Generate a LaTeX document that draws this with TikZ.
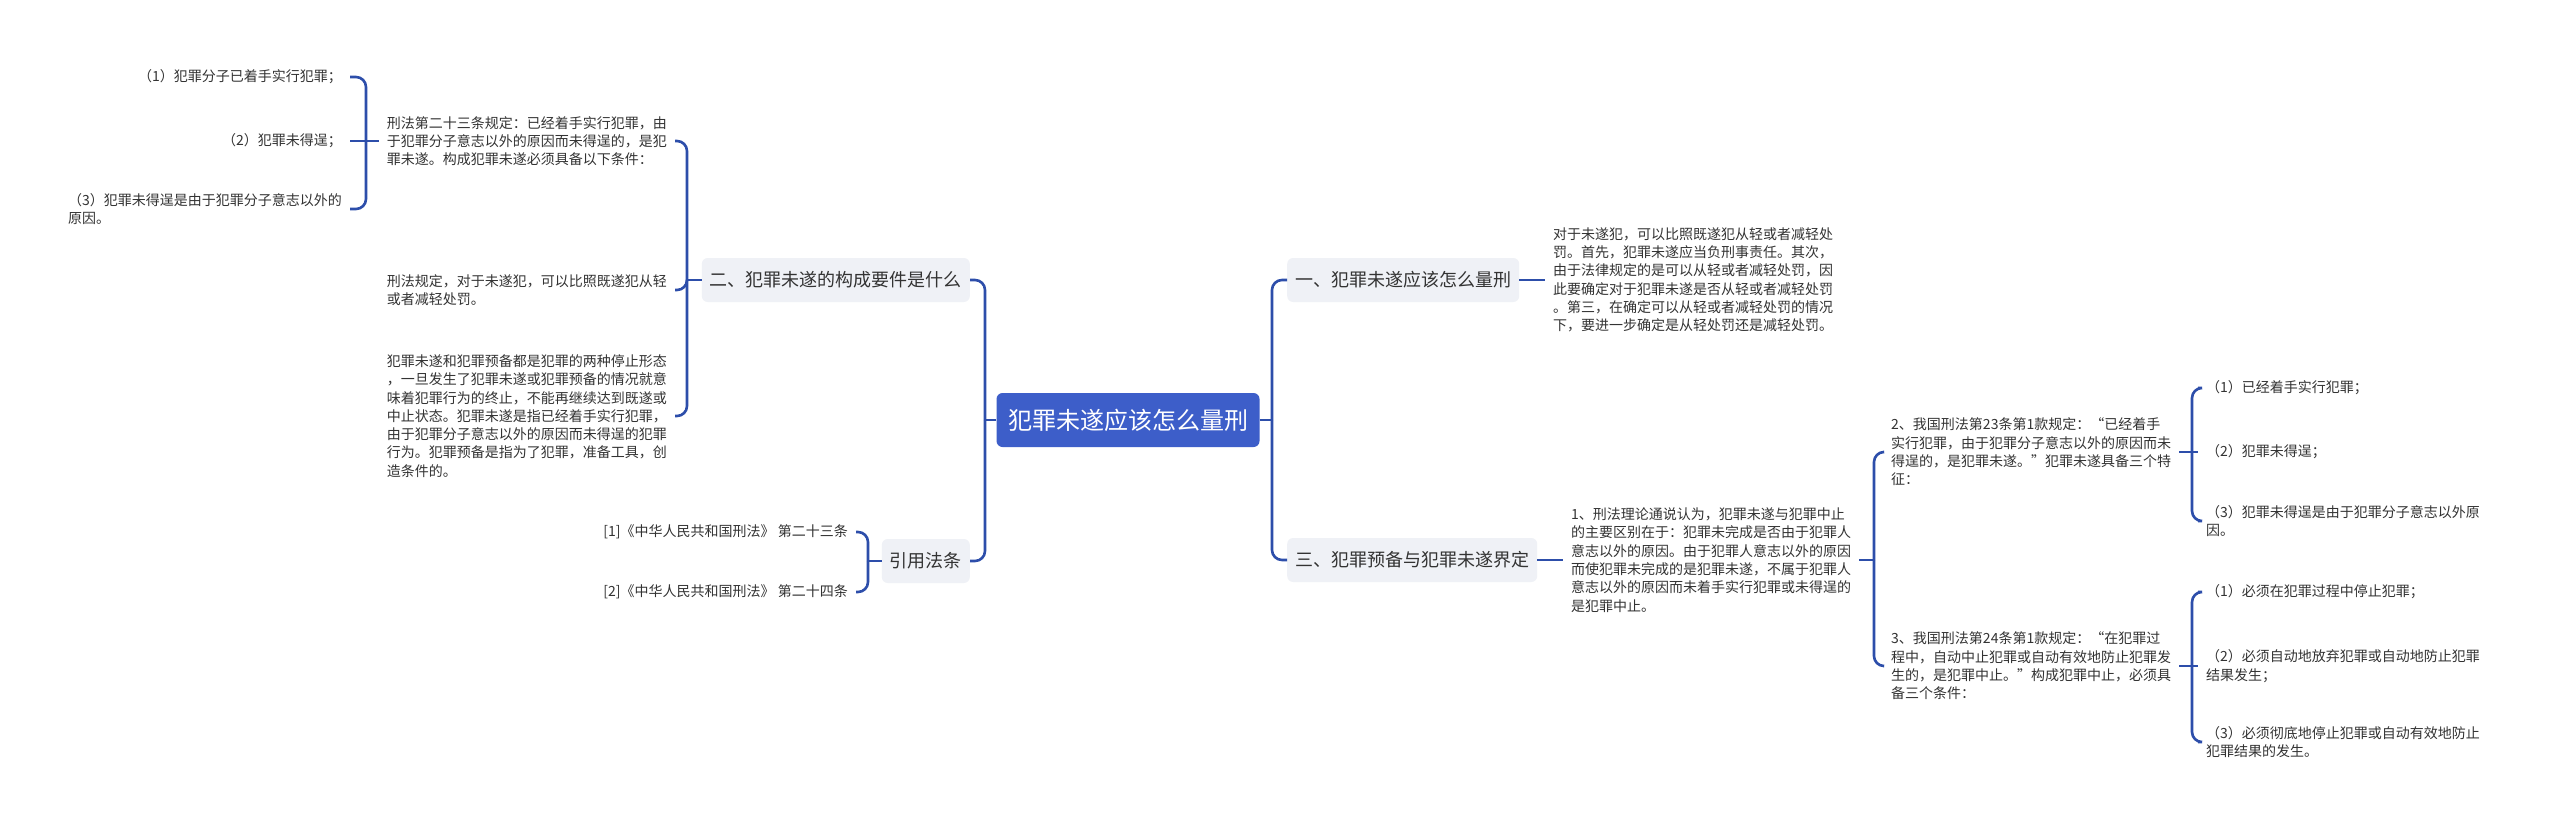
\documentclass[tikz,border=0pt]{standalone}
\usepackage{fontspec}
\setmainfont{Noto Sans CJK SC}
\definecolor{linec}{RGB}{45,78,170}
\definecolor{rootc}{RGB}{61,94,201}
\definecolor{lonefill}{RGB}{239,241,246}
\definecolor{txt}{RGB}{51,51,51}
\begin{document}
\begin{tikzpicture}[x=1pt,y=-1pt,
  conn/.style={draw=linec, line width=2.6pt, rounded corners=10pt},
  rootbox/.style={fill=rootc, text=white, rounded corners=6pt, minimum width=263pt, minimum height=54pt, inner sep=0pt, font=\fontsize{24}{28}\selectfont},
  lonebox/.style={fill=lonefill, text=txt, rounded corners=6pt, minimum height=44pt, inner xsep=8pt, inner ysep=0pt, font=\fontsize{18}{22}\selectfont},
  leaf/.style={text=txt, inner xsep=8pt, inner ysep=0pt, align=left, font=\fontsize{14}{18.3}\selectfont},
]
\fill[white] (0,0) rectangle (2560,827);
\useasboundingbox (0,0) rectangle (2560,827);

% root and level 1
\node[rootbox] (root) at (1128,420) {犯罪未遂应该怎么量刑};
\node[lonebox, anchor=west] (n1) at (1287,280) {一、犯罪未遂应该怎么量刑};
\node[lonebox, anchor=west] (n3) at (1287,560) {三、犯罪预备与犯罪未遂界定};
\node[lonebox, anchor=east] (n2) at (970,280) {二、犯罪未遂的构成要件是什么};
\node[lonebox, anchor=east] (n4) at (970,561) {引用法条};

% right side texts
\node[leaf, anchor=west] (t1) at (1545,280) {对于未遂犯，可以比照既遂犯从轻或者减轻处\\罚。首先，犯罪未遂应当负刑事责任。其次，\\由于法律规定的是可以从轻或者减轻处罚，因\\此要确定对于犯罪未遂是否从轻或者减轻处罚\\。第三，在确定可以从轻或者减轻处罚的情况\\下，要进一步确定是从轻处罚还是减轻处罚。};
\node[leaf, anchor=west] (t3) at (1563,560) {1、刑法理论通说认为，犯罪未遂与犯罪中止\\的主要区别在于：犯罪未完成是否由于犯罪人\\意志以外的原因。由于犯罪人意志以外的原因\\而使犯罪未完成的是犯罪未遂，不属于犯罪人\\意志以外的原因而未着手实行犯罪或未得逞的\\是犯罪中止。};
\node[leaf, anchor=west] (t2a) at (1883,452) {2、我国刑法第23条第1款规定：“已经着手\\实行犯罪，由于犯罪分子意志以外的原因而未\\得逞的，是犯罪未遂。”犯罪未遂具备三个特\\征：};
\node[leaf, anchor=west] (t2b) at (1883,666) {3、我国刑法第24条第1款规定：“在犯罪过\\程中，自动中止犯罪或自动有效地防止犯罪发\\生的，是犯罪中止。”构成犯罪中止，必须具\\备三个条件：};
\node[leaf, anchor=west] (c1) at (2198,388) {（1）已经着手实行犯罪；};
\node[leaf, anchor=west] (c2) at (2198,452) {（2）犯罪未得逞；};
\node[leaf, anchor=west] (c3) at (2198,521) {（3）犯罪未得逞是由于犯罪分子意志以外原\\因。};
\node[leaf, anchor=west] (d1) at (2198,592) {（1）必须在犯罪过程中停止犯罪；};
\node[leaf, anchor=west] (d2) at (2198,666) {（2）必须自动地放弃犯罪或自动地防止犯罪\\结果发生；};
\node[leaf, anchor=west] (d3) at (2198,742) {（3）必须彻底地停止犯罪或自动有效地防止\\犯罪结果的发生。};

% left side texts
\node[leaf, anchor=east] (s1) at (675,141) {刑法第二十三条规定：已经着手实行犯罪，由\\于犯罪分子意志以外的原因而未得逞的，是犯\\罪未遂。构成犯罪未遂必须具备以下条件：};
\node[leaf, anchor=east] (s2) at (675,290) {刑法规定，对于未遂犯，可以比照既遂犯从轻\\或者减轻处罚。};
\node[leaf, anchor=east] (s3) at (675,416) {犯罪未遂和犯罪预备都是犯罪的两种停止形态\\，一旦发生了犯罪未遂或犯罪预备的情况就意\\味着犯罪行为的终止，不能再继续达到既遂或\\中止状态。犯罪未遂是指已经着手实行犯罪，\\由于犯罪分子意志以外的原因而未得逞的犯罪\\行为。犯罪预备是指为了犯罪，准备工具，创\\造条件的。};
\node[leaf, anchor=east] (e1) at (350,77) {（1）犯罪分子已着手实行犯罪；};
\node[leaf, anchor=east] (e2) at (350,141) {（2）犯罪未得逞；};
\node[leaf, anchor=east] (e3) at (350,209) {（3）犯罪未得逞是由于犯罪分子意志以外的\\原因。};
\node[leaf, anchor=east] (r1) at (856,532) {[1]《中华人民共和国刑法》 第二十三条};
\node[leaf, anchor=east] (r2) at (856,592) {[2]《中华人民共和国刑法》 第二十四条};

% junctions
\coordinate (jL) at (985,420);
\coordinate (jR) at (1272,420);
\coordinate (j2) at (687,280);
\coordinate (js1) at (366,141);
\coordinate (j4) at (868,561);
\coordinate (jt3) at (1874,560);
\coordinate (ja) at (2192,452);
\coordinate (jb) at (2192,666);

% connectors
\draw[conn] (root.west) -- (jL);
\draw[conn] (jL) |- (n2.east);
\draw[conn] (jL) |- (n4.east);
\draw[conn] (root.east) -- (jR);
\draw[conn] (jR) |- (n1.west);
\draw[conn] (jR) |- (n3.west);

\draw[conn] (n2.west) -- (j2);
\draw[conn] (j2) |- (s1.east);
\draw[conn] (j2) |- (s2.east);
\draw[conn] (j2) |- (s3.east);
\draw[conn] (s1.west) -- (js1);
\draw[conn] (js1) |- (e1.east);
\draw[conn] (js1) -- (e2.east);
\draw[conn] (js1) |- (e3.east);
\draw[conn] (n4.west) -- (j4);
\draw[conn] (j4) |- (r1.east);
\draw[conn] (j4) |- (r2.east);

\draw[conn] (n1.east) -- (t1.west);
\draw[conn] (n3.east) -- (t3.west);
\draw[conn] (t3.east) -- (jt3);
\draw[conn] (jt3) |- (t2a.west);
\draw[conn] (jt3) |- (t2b.west);
\draw[conn] (t2a.east) -- (ja);
\draw[conn] (ja) |- (c1.west);
\draw[conn] (ja) -- (c2.west);
\draw[conn] (ja) |- (c3.west);
\draw[conn] (t2b.east) -- (jb);
\draw[conn] (jb) |- (d1.west);
\draw[conn] (jb) -- (d2.west);
\draw[conn] (jb) |- (d3.west);
\end{tikzpicture}
\end{document}
